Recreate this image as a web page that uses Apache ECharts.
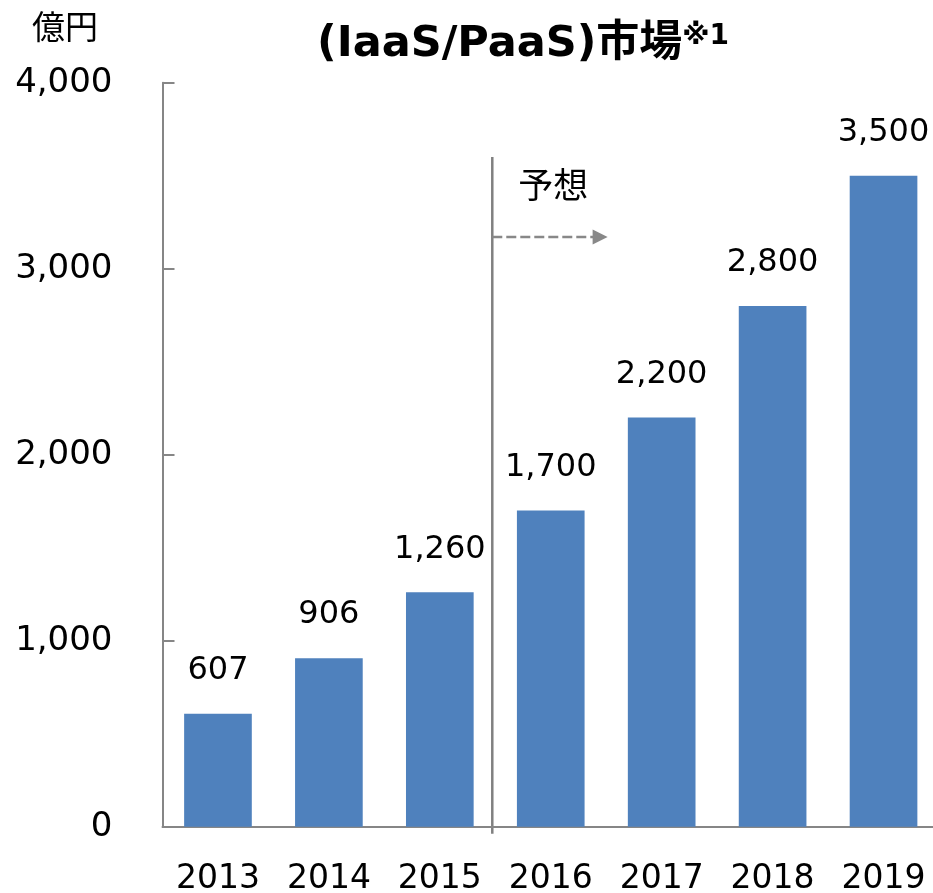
<!DOCTYPE html>
<html>
<head>
<meta charset="utf-8">
<script src="https://cdn.jsdelivr.net/npm/echarts@6/dist/echarts.min.js"></script>
<style>
html, body { margin: 0; padding: 0; background: #fff; overflow: hidden; }
#main { width: 939px; height: 893px; }
</style>
</head>
<body>
<div id="main"></div>
<script>
// 年度と市場規模（億円）
const years = ['2013', '2014', '2015', '2016', '2017', '2018', '2019']
const sales = [607, 906, 1260, 1700, 2200, 2800, 3500]
const forecastFrom = 3 // 2016年以降が予想

const fontFamily = '"DejaVu Sans", "Noto Sans CJK JP", sans-serif'
const withComma = v => String(v).replace(/\B(?=(\d{3})+(?!\d))/g, ',')

const chart = echarts.init(document.getElementById('main'))
chart.setOption({
  animation: false,
  title: [
    {
      text: '{a|(IaaS/PaaS)市場}{b|※1}',
      left: 312,
      top: 18,
      textStyle: {
        rich: {
          a: { fontSize: 43, fontWeight: 'bold', fontFamily: fontFamily, color: '#000' },
          b: { fontSize: 28, fontWeight: 'bold', fontFamily: fontFamily, color: '#000', verticalAlign: 'top' }
        }
      }
    },
    {
      text: '億円',
      left: 27,
      top: 9,
      textStyle: { fontSize: 33, fontWeight: 'normal', fontFamily: fontFamily, color: '#000' }
    }
  ],
  grid: {
    left: 162.5,
    right: 0,
    top: 82.7,
    bottom: 66.3,
    containLabel: false,
    outerBoundsMode: 'none'
  },
  xAxis: {
    type: 'category',
    data: years,
    axisLine: { lineStyle: { color: '#868686', width: 2 } },
    axisTick: { show: false },
    axisLabel: {
      margin: 36,
      fontSize: 33,
      fontFamily: fontFamily,
      color: '#000'
    }
  },
  yAxis: {
    type: 'value',
    min: 0,
    max: 4000,
    interval: 1000,
    axisLine: { show: true, lineStyle: { color: '#868686', width: 2 } },
    axisTick: { show: true, inside: true, length: 12, lineStyle: { color: '#868686', width: 2 } },
    splitLine: { show: false },
    axisLabel: {
      margin: 50,
      fontSize: 34,
      fontFamily: fontFamily,
      color: '#000',
      padding: [0, 0, 14, 0],
      formatter: v => withComma(v)
    }
  },
  series: [
    {
      type: 'bar',
      data: sales,
      barCategoryGap: '39%',
      itemStyle: { color: '#4F81BD' },
      label: {
        show: true,
        position: 'top',
        distance: 27,
        fontSize: 32,
        fontFamily: fontFamily,
        color: '#000',
        formatter: p => withComma(p.value)
      }
    }
  ]
})

// 予想の区切り線と矢印
const p0 = chart.convertToPixel({ seriesIndex: 0 }, [forecastFrom - 1, 0])
const p1 = chart.convertToPixel({ seriesIndex: 0 }, [forecastFrom, 0])
const band = p1[0] - p0[0]
const sepX = (p0[0] + p1[0]) / 2 - 3
const yBase = p0[1]
const yTop = chart.convertToPixel({ yAxisIndex: 0 }, 3600)
const yArrow = chart.convertToPixel({ yAxisIndex: 0 }, 3170)
const yText = chart.convertToPixel({ yAxisIndex: 0 }, 3430)
const arrowEnd = sepX + band * 1.04

chart.setOption({
  graphic: [
    {
      type: 'line',
      shape: { x1: sepX, y1: yTop, x2: sepX, y2: yBase + 7 },
      style: { stroke: '#808080', lineWidth: 2.5 }
    },
    {
      type: 'line',
      shape: { x1: sepX, y1: yArrow, x2: arrowEnd - 14, y2: yArrow },
      style: { stroke: '#888', lineWidth: 2.5, lineDash: [10, 4] }
    },
    {
      type: 'polygon',
      shape: { points: [[arrowEnd - 15, yArrow - 7.5], [arrowEnd, yArrow], [arrowEnd - 15, yArrow + 7.5]] },
      style: { fill: '#888' }
    },
    {
      type: 'text',
      style: {
        text: '予想',
        x: sepX + band * 0.55,
        y: yText,
        align: 'center',
        verticalAlign: 'middle',
        fontSize: 35,
        fontFamily: fontFamily,
        fill: '#000'
      }
    }
  ]
})
window.addEventListener('resize', chart.resize)
</script>
</body>
</html>
